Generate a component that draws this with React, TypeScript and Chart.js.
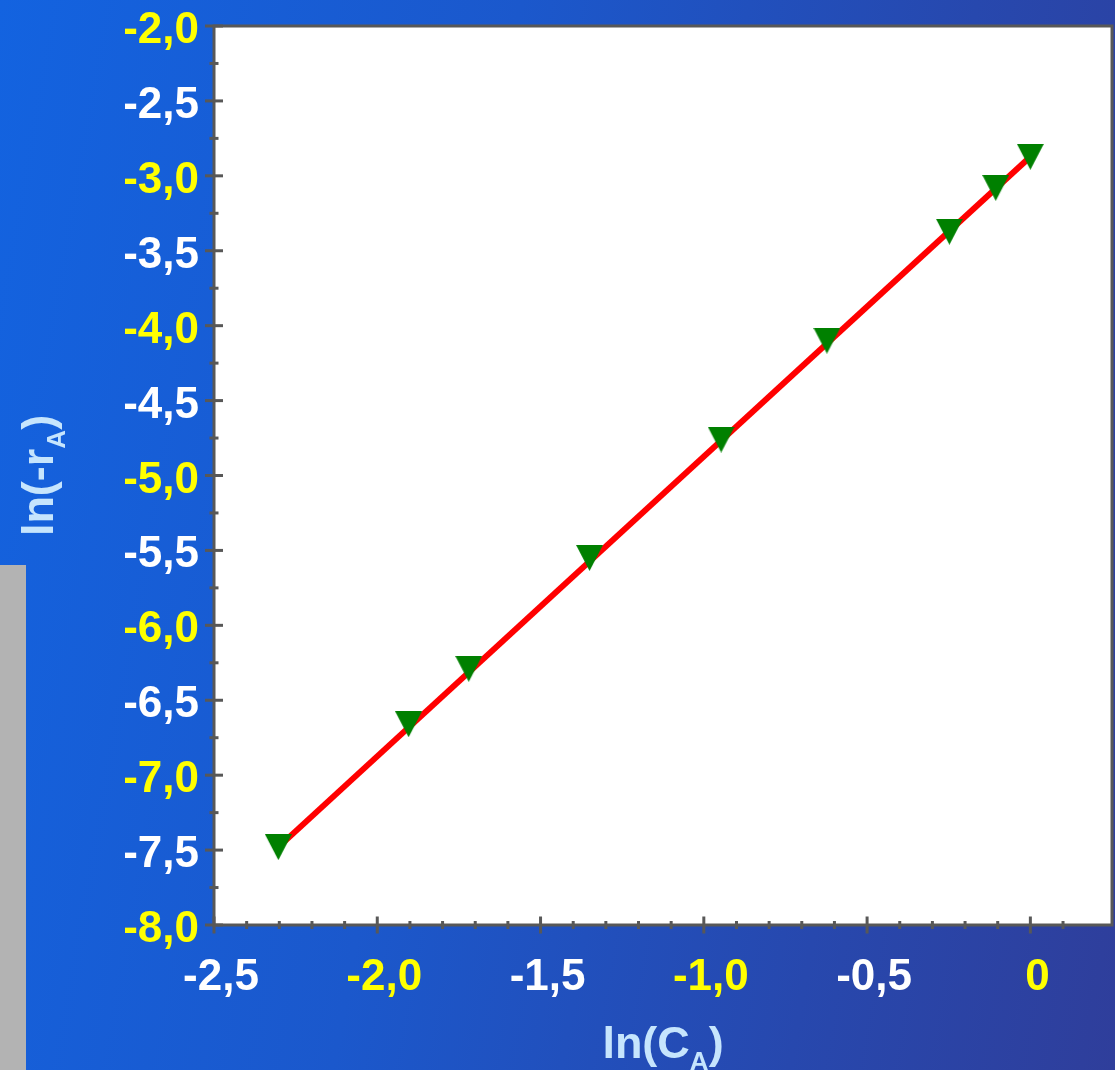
import React, { useEffect, useRef } from "react";
import { Chart, registerables } from "chart.js";

Chart.register(...registerables);

// ln(C_A) against ln(-r_A)
const lnCA = [-2.303, -1.904, -1.72, -1.35, -0.947, -0.623, -0.248, -0.106, 0.0];
const lnRate = [-7.48, -6.66, -6.29, -5.55, -4.76, -4.1, -3.373, -3.08, -2.873];

// straight-line fit through the measurements
const fitX = [-2.303, 0.0];
const fitY = [-7.48, -2.873];

const xMin = -2.5;
const xMax = 0.25;
const yMin = -8;
const yMax = -2;
const xMinorStep = 0.1;
const yMinorStep = 0.25;
const majorStep = 0.5;

const xTitle = { main: "ln(C", sub: "A", tail: ")" };
const yTitle = { main: "ln(-r", sub: "A", tail: ")" };

const W = 1115;
const H = 1070;

const LABEL_FONT = '700 44px "Liberation Sans", Arial, sans-serif';
const TITLE_FONT = '700 45px "Liberation Sans", Arial, sans-serif';
const SUB_FONT = '700 26px "Liberation Sans", Arial, sans-serif';
const AXIS_GRAY = "#585858";
const YELLOW = "#ffff00";
const WHITE = "#ffffff";
const TITLE_COLOR = "#c6e5fd";

const isMajor = (v: number) => Math.abs(v / majorStep - Math.round(v / majorStep)) < 1e-6;
const isInteger = (v: number) => Math.abs(v - Math.round(v)) < 1e-6;
const onGrid = (v: number, step: number) => Math.abs(v / step - Math.round(v / step)) < 1e-6;
const fmt = (v: number) => (Math.abs(v) < 1e-9 ? "0" : v.toFixed(1).replace(".", ","));

function triangleMarker(): HTMLCanvasElement {
  const c = document.createElement("canvas");
  c.width = 27;
  c.height = 26;
  const g = c.getContext("2d")!;
  g.fillStyle = "#008000";
  g.beginPath();
  g.moveTo(0, 0);
  g.lineTo(27, 0);
  g.lineTo(13.5, 26);
  g.closePath();
  g.fill();
  return c;
}

function drawTitle(ctx: CanvasRenderingContext2D, t: { main: string; sub: string; tail: string }) {
  ctx.font = TITLE_FONT;
  const w1 = ctx.measureText(t.main).width;
  const w3 = ctx.measureText(t.tail).width;
  ctx.font = SUB_FONT;
  const w2 = ctx.measureText(t.sub).width;
  let x = -(w1 + w2 + w3) / 2;
  ctx.fillStyle = TITLE_COLOR;
  ctx.textAlign = "left";
  ctx.textBaseline = "alphabetic";
  ctx.font = TITLE_FONT;
  ctx.fillText(t.main, x, 0);
  x += w1;
  ctx.font = SUB_FONT;
  ctx.fillText(t.sub, x, 12);
  x += w2;
  ctx.font = TITLE_FONT;
  ctx.fillText(t.tail, x, 0);
}

const framePlugin = {
  id: "frame",
  beforeDatasetsDraw(chart: any) {
    const { ctx, chartArea: a } = chart;
    ctx.save();
    ctx.fillStyle = "#ffffff";
    ctx.fillRect(a.left, a.top, a.right - a.left, a.bottom - a.top);
    ctx.restore();
  },
  afterDatasetsDraw(chart: any) {
    const { ctx, chartArea: a, scales } = chart;
    const xs = scales.x;
    const ys = scales.y;
    ctx.save();

    // frame
    ctx.strokeStyle = AXIS_GRAY;
    ctx.lineWidth = 3;
    ctx.strokeRect(a.left, a.top, a.right - a.left, a.bottom - a.top);

    // y ticks
    ctx.lineWidth = 3;
    for (const t of ys.ticks) {
      const v = t.value;
      if (!onGrid(v, yMinorStep)) continue;
      const py = ys.getPixelForValue(v);
      const major = isMajor(v);
      const half = major ? 9 : 4.5;
      ctx.beginPath();
      ctx.moveTo(a.left - half, py);
      ctx.lineTo(a.left + half, py);
      ctx.stroke();
    }
    // x ticks
    for (const t of xs.ticks) {
      const v = t.value;
      if (!onGrid(v, xMinorStep)) continue;
      const px = xs.getPixelForValue(v);
      const major = isMajor(v);
      const len = major ? 8.5 : 4;
      ctx.beginPath();
      ctx.moveTo(px, a.bottom - len);
      ctx.lineTo(px, a.bottom + len);
      ctx.stroke();
    }

    // tick labels
    ctx.font = LABEL_FONT;
    ctx.textBaseline = "alphabetic";
    ctx.textAlign = "right";
    for (const t of ys.ticks) {
      const v = t.value;
      if (!isMajor(v)) continue;
      const py = ys.getPixelForValue(v);
      ctx.fillStyle = isInteger(v) ? YELLOW : WHITE;
      ctx.fillText(fmt(v), a.left - 15, py + 17);
    }
    ctx.textAlign = "center";
    for (const t of xs.ticks) {
      const v = t.value;
      if (!isMajor(v)) continue;
      const px = xs.getPixelForValue(v);
      ctx.fillStyle = isInteger(v) ? YELLOW : WHITE;
      ctx.fillText(fmt(v), px + 7, a.bottom + 65);
    }

    // axis titles
    ctx.save();
    ctx.translate((a.left + a.right) / 2, 1058);
    drawTitle(ctx, xTitle);
    ctx.restore();

    ctx.save();
    ctx.translate(53, (a.top + a.bottom) / 2);
    ctx.rotate(-Math.PI / 2);
    drawTitle(ctx, yTitle);
    ctx.restore();

    ctx.restore();
  },
};

export default function App() {
  const ref = useRef<HTMLCanvasElement | null>(null);

  useEffect(() => {
    if (!ref.current) return;
    const marker = triangleMarker();
    const chart = new Chart(ref.current, {
      type: "scatter",
      data: {
        datasets: [
          {
            label: "ln(-rA)",
            data: lnCA.map((x, i) => ({ x, y: lnRate[i] })),
            pointStyle: marker as any,
            pointRadius: 13,
            showLine: false,
            order: 0,
          },
          {
            label: "fit",
            data: fitX.map((x, i) => ({ x, y: fitY[i] })),
            showLine: true,
            borderColor: "#ff0000",
            borderWidth: 6,
            pointRadius: 0,
            fill: false,
            order: 1,
          },
        ],
      },
      options: {
        responsive: false,
        animation: false,
        events: [],
        layout: { autoPadding: false, padding: { left: 214, top: 26, right: 3, bottom: 145 } },
        plugins: { legend: { display: false }, tooltip: { enabled: false } },
        scales: {
          x: { type: "linear", min: xMin, max: xMax, display: false, ticks: { stepSize: xMinorStep } },
          y: { type: "linear", min: yMin, max: yMax, display: false, ticks: { stepSize: yMinorStep } },
        },
      },
      plugins: [framePlugin],
    });
    return () => chart.destroy();
  }, []);

  return (
    <div
      style={{
        position: "absolute",
        left: 0,
        top: 0,
        width: W,
        height: H,
        overflow: "hidden",
        background: "linear-gradient(100deg, #1363e0 0%, #1b58cc 40%, #2748ae 75%, #2f3e9b 100%)",
      }}
    >
      <div style={{ position: "absolute", left: 0, top: 565, width: 26, height: H - 565, background: "#b3b3b3" }} />
      <canvas ref={ref} width={W} height={H} style={{ position: "absolute", left: 0, top: 0, display: "block" }} />
    </div>
  );
}
